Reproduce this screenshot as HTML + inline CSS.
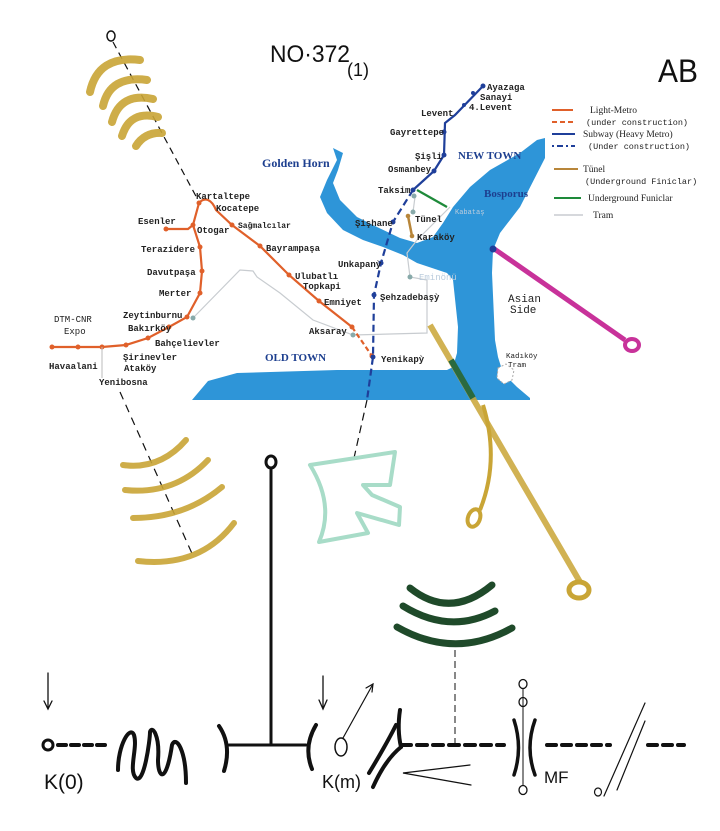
<!DOCTYPE html>
<html><head><meta charset="utf-8"><style>
html,body{margin:0;padding:0;background:#fff}
svg{display:block}
.m{font-family:"Liberation Mono",monospace;font-weight:bold;font-size:9px;fill:#222}
.b{font-family:"Liberation Serif",serif;font-weight:bold;fill:#1d3f8f}
.lg{font-family:"Liberation Serif",serif;font-size:9.5px;fill:#222}
.lm{font-family:"Liberation Mono",monospace;font-size:8.5px;fill:#222}
.h{font-family:"Liberation Sans",sans-serif;fill:#111}
</style></head><body>
<svg width="720" height="831" viewBox="0 0 720 831" xmlns="http://www.w3.org/2000/svg">
<!-- water -->
<path d="M333,148 L343,153 L338,170 L333,183 L340,200 L357,217 L377,227 L400,238 L417,243 L433,237 L443,223 L453,207 L470,187 L490,170 L520,153 L537,140 L545,138 L545,158 L520,207 L500,233 L493,250 L492,273 L495,340 L498,357 L503,373 L517,387 L530,398 L530,400 L192,400 L208,381 L237,373 L337,370 L447,370 L453,367 L457,353 L458,327 L453,280 L447,273 L417,263 L403,255 L383,247 L363,240 L343,230 L327,213 L320,197 L327,180 L337,160 Z" fill="#2e95d8"/>
<path d="M498,368 l8,-4 8,6 -2,10 -8,4 -7,-6z" fill="#fff" stroke="#aaa" stroke-width="1" stroke-dasharray="2,2"/>
<!-- tram -->
<polyline points="193,318 240,270 253,271 257,277 280,293 313,320 353,335 427,333 427,280 410,277 407,253 417,240 450,207" fill="none" stroke="#c8ccd0" stroke-width="1.2"/>
<polyline points="415,197 413,212" fill="none" stroke="#c8ccd0" stroke-width="1.2"/>
<circle cx="193" cy="318" r="2.5" fill="#8aa"/><circle cx="410" cy="277" r="2.5" fill="#8aa"/><circle cx="414" cy="196" r="2.5" fill="#8aa"/><circle cx="353" cy="335" r="2.5" fill="#8aa"/><circle cx="413" cy="212" r="2.5" fill="#8aa"/>
<!-- light metro -->
<g stroke="#e0602a" stroke-width="2.2" fill="none">
<polyline points="52,347 102,347 126,345 148,338 169,327 187,317 200,293 202,271 200,247 193,225 199,203"/>
<path d="M166,229 L188,229 L193,225"/>
<path d="M199,203 C205,196 212,200 216,210 L232,225 L260,246 L289,275 L319,301 L352,327"/>
<path d="M352,327 L372,356" stroke-dasharray="5,3"/>
</g>
<g fill="#e0602a"><circle cx="52" cy="347" r="2.5"/><circle cx="78" cy="347" r="2.5"/><circle cx="102" cy="347" r="2.5"/><circle cx="126" cy="345" r="2.5"/><circle cx="148" cy="338" r="2.5"/><circle cx="169" cy="327" r="2.5"/><circle cx="187" cy="317" r="2.5"/><circle cx="200" cy="293" r="2.5"/><circle cx="202" cy="271" r="2.5"/><circle cx="200" cy="247" r="2.5"/><circle cx="193" cy="225" r="2.5"/><circle cx="166" cy="229" r="2.5"/><circle cx="199" cy="203" r="2.5"/><circle cx="232" cy="225" r="2.5"/><circle cx="260" cy="246" r="2.5"/><circle cx="289" cy="275" r="2.5"/><circle cx="319" cy="301" r="2.5"/><circle cx="352" cy="327" r="2.5"/><circle cx="372" cy="356" r="2.5"/></g>
<line x1="102" y1="347" x2="102" y2="378" stroke="#bbb" stroke-width="1"/>
<!-- subway -->
<g stroke="#1f3f9a" stroke-width="2.2" fill="none">
<polyline points="483,86 455,115 445,123 444,155 434,171 413,190"/>
<polyline points="413,190 393,222 381,263 374,295 373,357 367,400" stroke-dasharray="7,4"/>
</g>
<g fill="#1f3f9a"><circle cx="483" cy="86" r="2.5"/><circle cx="473" cy="93" r="2"/><circle cx="464" cy="105" r="2"/><circle cx="444" cy="132" r="2.5"/><circle cx="444" cy="155" r="2.5"/><circle cx="434" cy="171" r="2.5"/><circle cx="413" cy="190" r="2.5"/><circle cx="393" cy="222" r="2.5"/><circle cx="381" cy="263" r="2.5"/><circle cx="374" cy="295" r="2.5"/><circle cx="373" cy="357" r="2.5"/></g>
<line x1="417" y1="190" x2="447" y2="207" stroke="#1e8a3a" stroke-width="2.2"/>
<line x1="408" y1="216" x2="412" y2="236" stroke="#b8863a" stroke-width="2.5"/>
<circle cx="408" cy="216" r="2.3" fill="#b8863a"/><circle cx="412" cy="236" r="2.3" fill="#b8863a"/>
<!-- labels -->
<g class="m">
<text x="487" y="90">Ayazaga</text><text x="480" y="100">Sanayi</text><text x="469" y="110">4.Levent</text>
<text x="421" y="116">Levent</text><text x="390" y="135">Gayrettepe</text><text x="415" y="159">Şişli</text>
<text x="388" y="172">Osmanbey</text><text x="378" y="193">Taksim</text><text x="355" y="226">Şişhane</text>
<text x="415" y="222">Tünel</text><text x="417" y="240">Karaköy</text><text x="338" y="267">Unkapanỳ</text>
<text x="380" y="300">Şehzadebaşỳ</text><text x="309" y="334">Aksaray</text><text x="381" y="362">Yenikapỳ</text>
<text x="196" y="199">Kartaltepe</text><text x="216" y="211">Kocatepe</text><text x="197" y="233">Otogar</text>
<text x="238" y="228" font-size="8">Sağmalcılar</text><text x="266" y="251">Bayrampaşa</text>
<text x="295" y="279">Ulubatlı</text><text x="303" y="289">Topkapi</text><text x="324" y="305">Emniyet</text>
<text x="138" y="224">Esenler</text><text x="141" y="252">Terazidere</text><text x="147" y="275">Davutpaşa</text>
<text x="159" y="296">Merter</text><text x="123" y="318">Zeytinburnu</text><text x="128" y="331">Bakırköy</text>
<text x="155" y="346">Bahçelievler</text><text x="123" y="360">Şirinevler</text><text x="124" y="371">Ataköy</text>
<text x="54" y="322" font-weight="normal">DTM-CNR</text><text x="64" y="334" font-weight="normal">Expo</text>
<text x="49" y="369">Havaalani</text><text x="99" y="385">Yenibosna</text>
<text x="506" y="358" font-size="7.5" font-weight="normal">Kadıköy</text><text x="508" y="367" font-size="7.5" font-weight="normal">Tram</text>
<text x="508" y="302" font-size="11" font-weight="normal">Asian</text><text x="510" y="313" font-size="11" font-weight="normal">Side</text>
<text x="455" y="214" fill="#bcd" font-weight="normal" font-size="7">Kabataş</text>
<text x="419" y="280" fill="#bcd" font-weight="normal">Eminönü</text>
</g>
<text class="b" x="262" y="167" font-size="12">Golden Horn</text>
<text class="b" x="458" y="159" font-size="11">NEW TOWN</text>
<text class="b" x="484" y="197" font-size="11">Bosporus</text>
<text class="b" x="265" y="361" font-size="11">OLD TOWN</text>
<!-- legend -->
<line x1="552" y1="110" x2="573" y2="110" stroke="#e0602a" stroke-width="2"/>
<line x1="552" y1="122" x2="575" y2="122" stroke="#e0602a" stroke-width="2" stroke-dasharray="5,3"/>
<line x1="552" y1="134" x2="575" y2="134" stroke="#1f3f9a" stroke-width="2"/>
<line x1="552" y1="146" x2="575" y2="146" stroke="#1f3f9a" stroke-width="2" stroke-dasharray="2,3,6,3"/>
<line x1="554" y1="169" x2="578" y2="169" stroke="#b8863a" stroke-width="2"/>
<line x1="554" y1="198" x2="581" y2="198" stroke="#1e8a3a" stroke-width="2"/>
<line x1="554" y1="215" x2="583" y2="215" stroke="#c8ccd0" stroke-width="1.5"/>
<text class="lg" x="590" y="113">Light-Metro</text>
<text class="lm" x="586" y="125">(under construction)</text>
<text class="lg" x="583" y="137">Subway (Heavy Metro)</text>
<text class="lm" x="588" y="149">(Under construction)</text>
<text class="lg" x="583" y="172">Tünel</text>
<text class="lm" x="585" y="184" font-size="8">(Underground Finiclar)</text>
<text class="lg" x="588" y="201">Underground Funiclar</text>
<text class="lg" x="593" y="218">Tram</text>
<!-- handwritten -->
<text class="h" x="270" y="62" font-size="24" textLength="80" lengthAdjust="spacingAndGlyphs">NO·372</text>
<text class="h" x="347" y="76" font-size="18">(1)</text>
<text class="h" x="658" y="82" font-size="32" textLength="40" lengthAdjust="spacingAndGlyphs">AB</text>
<!-- top-left arcs -->
<ellipse cx="111" cy="36" rx="4" ry="5" fill="none" stroke="#111" stroke-width="1.5"/>
<line x1="113" y1="42" x2="198" y2="200" stroke="#111" stroke-width="1.2" stroke-dasharray="7,5"/>
<g stroke="#c9a536" stroke-width="8" stroke-linecap="round" fill="none" opacity="0.9">
<path d="M90,92 Q98,55 140,60"/><path d="M103,106 Q110,75 147,80"/><path d="M112,122 Q120,92 153,99"/><path d="M122,136 Q130,110 158,117"/><path d="M136,146 Q145,132 162,133"/>
</g>
<!-- lower-left arcs -->
<line x1="120" y1="392" x2="194" y2="558" stroke="#111" stroke-width="1.2" stroke-dasharray="8,6"/>
<g stroke="#c9a536" stroke-width="6" stroke-linecap="round" fill="none" opacity="0.9">
<path d="M123,465 Q160,470 186,440"/><path d="M125,490 Q175,495 208,460"/><path d="M133,518 Q185,518 222,487"/><path d="M138,561 Q200,568 234,523"/>
</g>
<!-- magenta -->
<line x1="493" y1="248" x2="625" y2="340" stroke="#c8329a" stroke-width="5"/>
<circle cx="493" cy="249" r="3.5" fill="#1f3f9a"/>
<ellipse cx="632" cy="345" rx="7" ry="6" fill="none" stroke="#c8329a" stroke-width="4"/>
<!-- yellow long -->
<line x1="430" y1="325" x2="580" y2="582" stroke="#c9a536" stroke-width="6" opacity="0.85"/>
<path d="M451,360 L473,398" stroke="#2a6a40" stroke-width="6"/>
<ellipse cx="579" cy="590" rx="10" ry="8" fill="none" stroke="#c9a536" stroke-width="5"/>
<path d="M483,405 Q500,460 480,510" fill="none" stroke="#c9a536" stroke-width="4"/>
<ellipse cx="474" cy="518" rx="6" ry="9" fill="none" stroke="#c9a536" stroke-width="4" transform="rotate(20 474 518)"/>
<!-- green E shape -->
<line x1="367" y1="400" x2="354" y2="458" stroke="#111" stroke-width="1.2" stroke-dasharray="8,5"/>
<path d="M310,465 L395,452 L390,485 L363,485 L372,495 L400,507 L399,525 L357,513 L368,533 L319,542 Q335,505 310,465 Z" fill="none" stroke="#a8dcc8" stroke-width="4" stroke-linejoin="round"/>
<!-- stalk -->
<ellipse cx="271" cy="462" rx="5" ry="6" fill="none" stroke="#111" stroke-width="3"/>
<line x1="271" y1="469" x2="271" y2="745" stroke="#111" stroke-width="3"/>
<!-- dark green arcs -->
<g stroke="#1f4a2a" stroke-width="7" stroke-linecap="round" fill="none">
<path d="M410,588 Q450,620 492,585"/><path d="M403,606 Q450,635 495,611"/><path d="M397,627 Q455,660 512,628"/>
</g>
<line x1="455" y1="650" x2="455" y2="745" stroke="#111" stroke-width="1" stroke-dasharray="7,4"/>
<!-- bottom row -->
<g stroke="#111" fill="none" stroke-linecap="round">
<line x1="48" y1="673" x2="48" y2="708" stroke-width="1.3"/><path d="M44,701 L48,709 L52,701" stroke-width="1.3"/>
<circle cx="48" cy="745" r="5" stroke-width="3"/>
<line x1="58" y1="745" x2="106" y2="745" stroke-width="4" stroke-dasharray="8,5"/>
<path d="M118,770 C118,745 130,725 134,735 C138,748 128,770 136,778 C144,785 150,740 150,732 C152,725 160,735 158,760 C158,778 166,785 172,745 C176,735 186,750 186,783" stroke-width="4"/>
<path d="M219,726 Q232,745 224,771" stroke-width="4"/>
<line x1="229" y1="745" x2="306" y2="745" stroke-width="3"/>
<path d="M316,725 Q303,747 312,769" stroke-width="4"/>
<line x1="323" y1="676" x2="323" y2="708" stroke-width="1.3"/><path d="M319,700 L323,709 L327,700" stroke-width="1.3"/>
<ellipse cx="341" cy="747" rx="6" ry="9" stroke-width="1.5"/>
<line x1="343" y1="738" x2="373" y2="684" stroke-width="1.2"/><path d="M366,688 L373,684 L372,692" stroke-width="1.2"/>
<path d="M400,710 Q397,730 401,747" stroke-width="4"/>
<path d="M369,773 Q386,745 396,725" stroke-width="4"/>
<path d="M373,787 Q385,760 401,747" stroke-width="4"/>
<line x1="401" y1="745" x2="504" y2="745" stroke-width="4" stroke-dasharray="10,6"/>
<path d="M470,765 L403,773 L471,785" stroke-width="1.2"/>
<path d="M514,720 Q523,748 514,775" stroke-width="3.5"/>
<path d="M535,720 Q525,748 535,775" stroke-width="3.5"/>
<line x1="523" y1="689" x2="523" y2="785" stroke-width="1"/>
<ellipse cx="523" cy="684" rx="4" ry="4.5" stroke-width="1.3"/><ellipse cx="523" cy="702" rx="4" ry="4.5" stroke-width="1.3"/><ellipse cx="523" cy="790" rx="4" ry="4.5" stroke-width="1.3"/>
<line x1="547" y1="745" x2="610" y2="745" stroke-width="4" stroke-dasharray="9,6"/>
<line x1="648" y1="745" x2="684" y2="745" stroke-width="4" stroke-dasharray="9,6"/>
<line x1="645" y1="703" x2="604" y2="796" stroke-width="1.2"/>
<line x1="645" y1="721" x2="617" y2="790" stroke-width="1.2"/>
<ellipse cx="598" cy="792" rx="3.5" ry="4" stroke-width="1.2"/>
</g>
<text class="h" x="44" y="789" font-size="21" font-weight="300">K(0)</text>
<text class="h" x="322" y="788" font-size="18" font-weight="300">K(m)</text>
<text class="h" x="544" y="783" font-size="17" font-weight="300">MF</text>
</svg>
</body></html>
